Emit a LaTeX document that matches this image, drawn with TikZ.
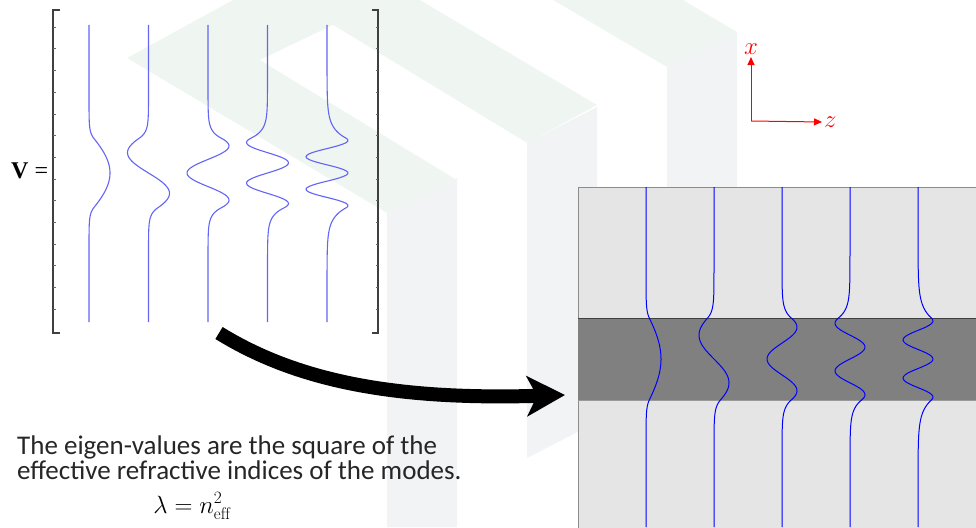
\documentclass[tikz,border=0pt]{standalone}
\usepackage{fontspec}
\newfontfamily\calib{Carlito}
\newfontfamily\tnr{Liberation Serif}
\usepackage{tikz}
\usetikzlibrary{arrows.meta}
\definecolor{wmgreen}{RGB}{239,246,241}
\definecolor{wmgrey}{RGB}{242,243,245}
\definecolor{modeblue}{RGB}{100,100,245}
\definecolor{cladgrey}{RGB}{229,229,229}
\definecolor{coregrey}{RGB}{128,128,128}

\begin{document}
\begin{tikzpicture}[
    x=1pt, y=-1pt,
    declare function={
      modef(\t,\m)=cos(77.35*(\m+1)*max(-1,min(1,\t))-90*\m)
        *exp(-1.35*(\m+1)*tan(77.35-12.65*\m)*max(0,abs(\t)-1));
    },
    mode/.style={line width=1pt, draw=blue},
    vmode/.style={line width=1.1pt, draw=modeblue},
    brack/.style={line width=1.2pt, draw=black!75},
    axis/.style={line width=1pt, red, -{Triangle[length=8pt,width=7pt]}},
    lbl/.style={font=\fontsize{26}{26}\selectfont, text=red, inner sep=2pt},
    >=Stealth
  ]
  \clip (0,0) rectangle (976,527);

  %% ===== faint logo in the background =====
  \fill[wmgreen] (127,58) -- (233,0) -- (420,0) -- (597,105) -- (527,143)
    -- (457,180) -- (387,213) -- cycle;
  \fill[white] (260,60) -- (333,25) -- (527,143) -- (457,180) -- cycle;
  \fill[wmgreen] (553,0) -- (683,0) -- (737,32) -- (667,67) -- cycle;
  \fill[wmgrey] (387,213) -- (457,178) -- (457,527) -- (387,527) -- cycle;
  \fill[wmgrey] (527,143) -- (597,107) -- (597,422) -- (527,458) -- cycle;
  \fill[wmgrey] (667,67) -- (737,32) -- (737,200) -- (667,200) -- cycle;

  %% ===== matrix of modes (left) =====
  \node[font=\tnr\fontsize{24}{24}\selectfont, anchor=base west, inner sep=0pt]
    (vlab) at (11,178) {\textbf{V} =};

  \draw[brack] (60,10) -- (53,10) -- (53,333) -- (60,333);
  \draw[brack] (372,10) -- (378,10) -- (378,333) -- (372,333);
  \foreach \k in {0,...,13}{
    \draw[black!60, line width=0.6pt] (53,27+21.7*\k) -- ++(2.5,0);
    \draw[black!60, line width=0.6pt] (378,27+21.7*\k) -- ++(-2.5,0);
  }

  \foreach \m in {0,...,4}{
    \pgfmathsetmacro{\xc}{89+59.5*\m}
    \draw[vmode] (\xc,25) -- plot[domain=68:278, samples=150]
      ({\xc+21*modef((\x-173)/35,\m)}, \x) -- (\xc,322);
  }

  %% ===== axes =====
  \coordinate (orig) at (751,121);
  \node[lbl, anchor=south] (xlab) at (751,57) {$x$};
  \node[lbl, anchor=west] (zlab) at (822,122) {$z$};
  \draw[axis] (orig) -- (xlab.south);
  \draw[axis] (orig) -- (zlab.west);

  %% ===== slab waveguide (right) =====
  \fill[cladgrey, draw=black!45] (578,187) rectangle (990,540);
  \fill[coregrey] (578,318) rectangle (990,400);
  \draw[black!75] (578,318) -- (990,318);
  \draw[black!40] (578,400) -- (990,400);

  \foreach \m in {0,...,4}{
    \pgfmathsetmacro{\xc}{646+68*\m}
    \draw[mode] (\xc,187) -- plot[domain=236:482, samples=150]
      ({\xc+15*modef((\x-359)/41,\m)}, \x) -- (\xc,527);
  }

  %% ===== big arrow =====
  \coordinate (arrS) at (219,333);
  \coordinate (arrE) at (565,395);
  \draw[line width=14pt, -{Stealth[length=38pt, width=40pt, inset=10pt]}]
    (arrS) .. controls (300,383) and (400,400) .. (arrE);

  %% ===== text =====
  \node[font=\calib\fontsize{27}{25}\selectfont, text=black!85, align=left,
        anchor=north west, inner sep=0pt]
    (eigtxt) at (17,436) {The eigen-values are the square of the\\
      effective refractive indices of the modes.};
  \node[font=\fontsize{24}{24}\selectfont, anchor=base, inner sep=0pt]
    (eqn) at (192,513) {$\lambda = n_{\mathrm{eff}}^{2}$};
\end{tikzpicture}
\end{document}
